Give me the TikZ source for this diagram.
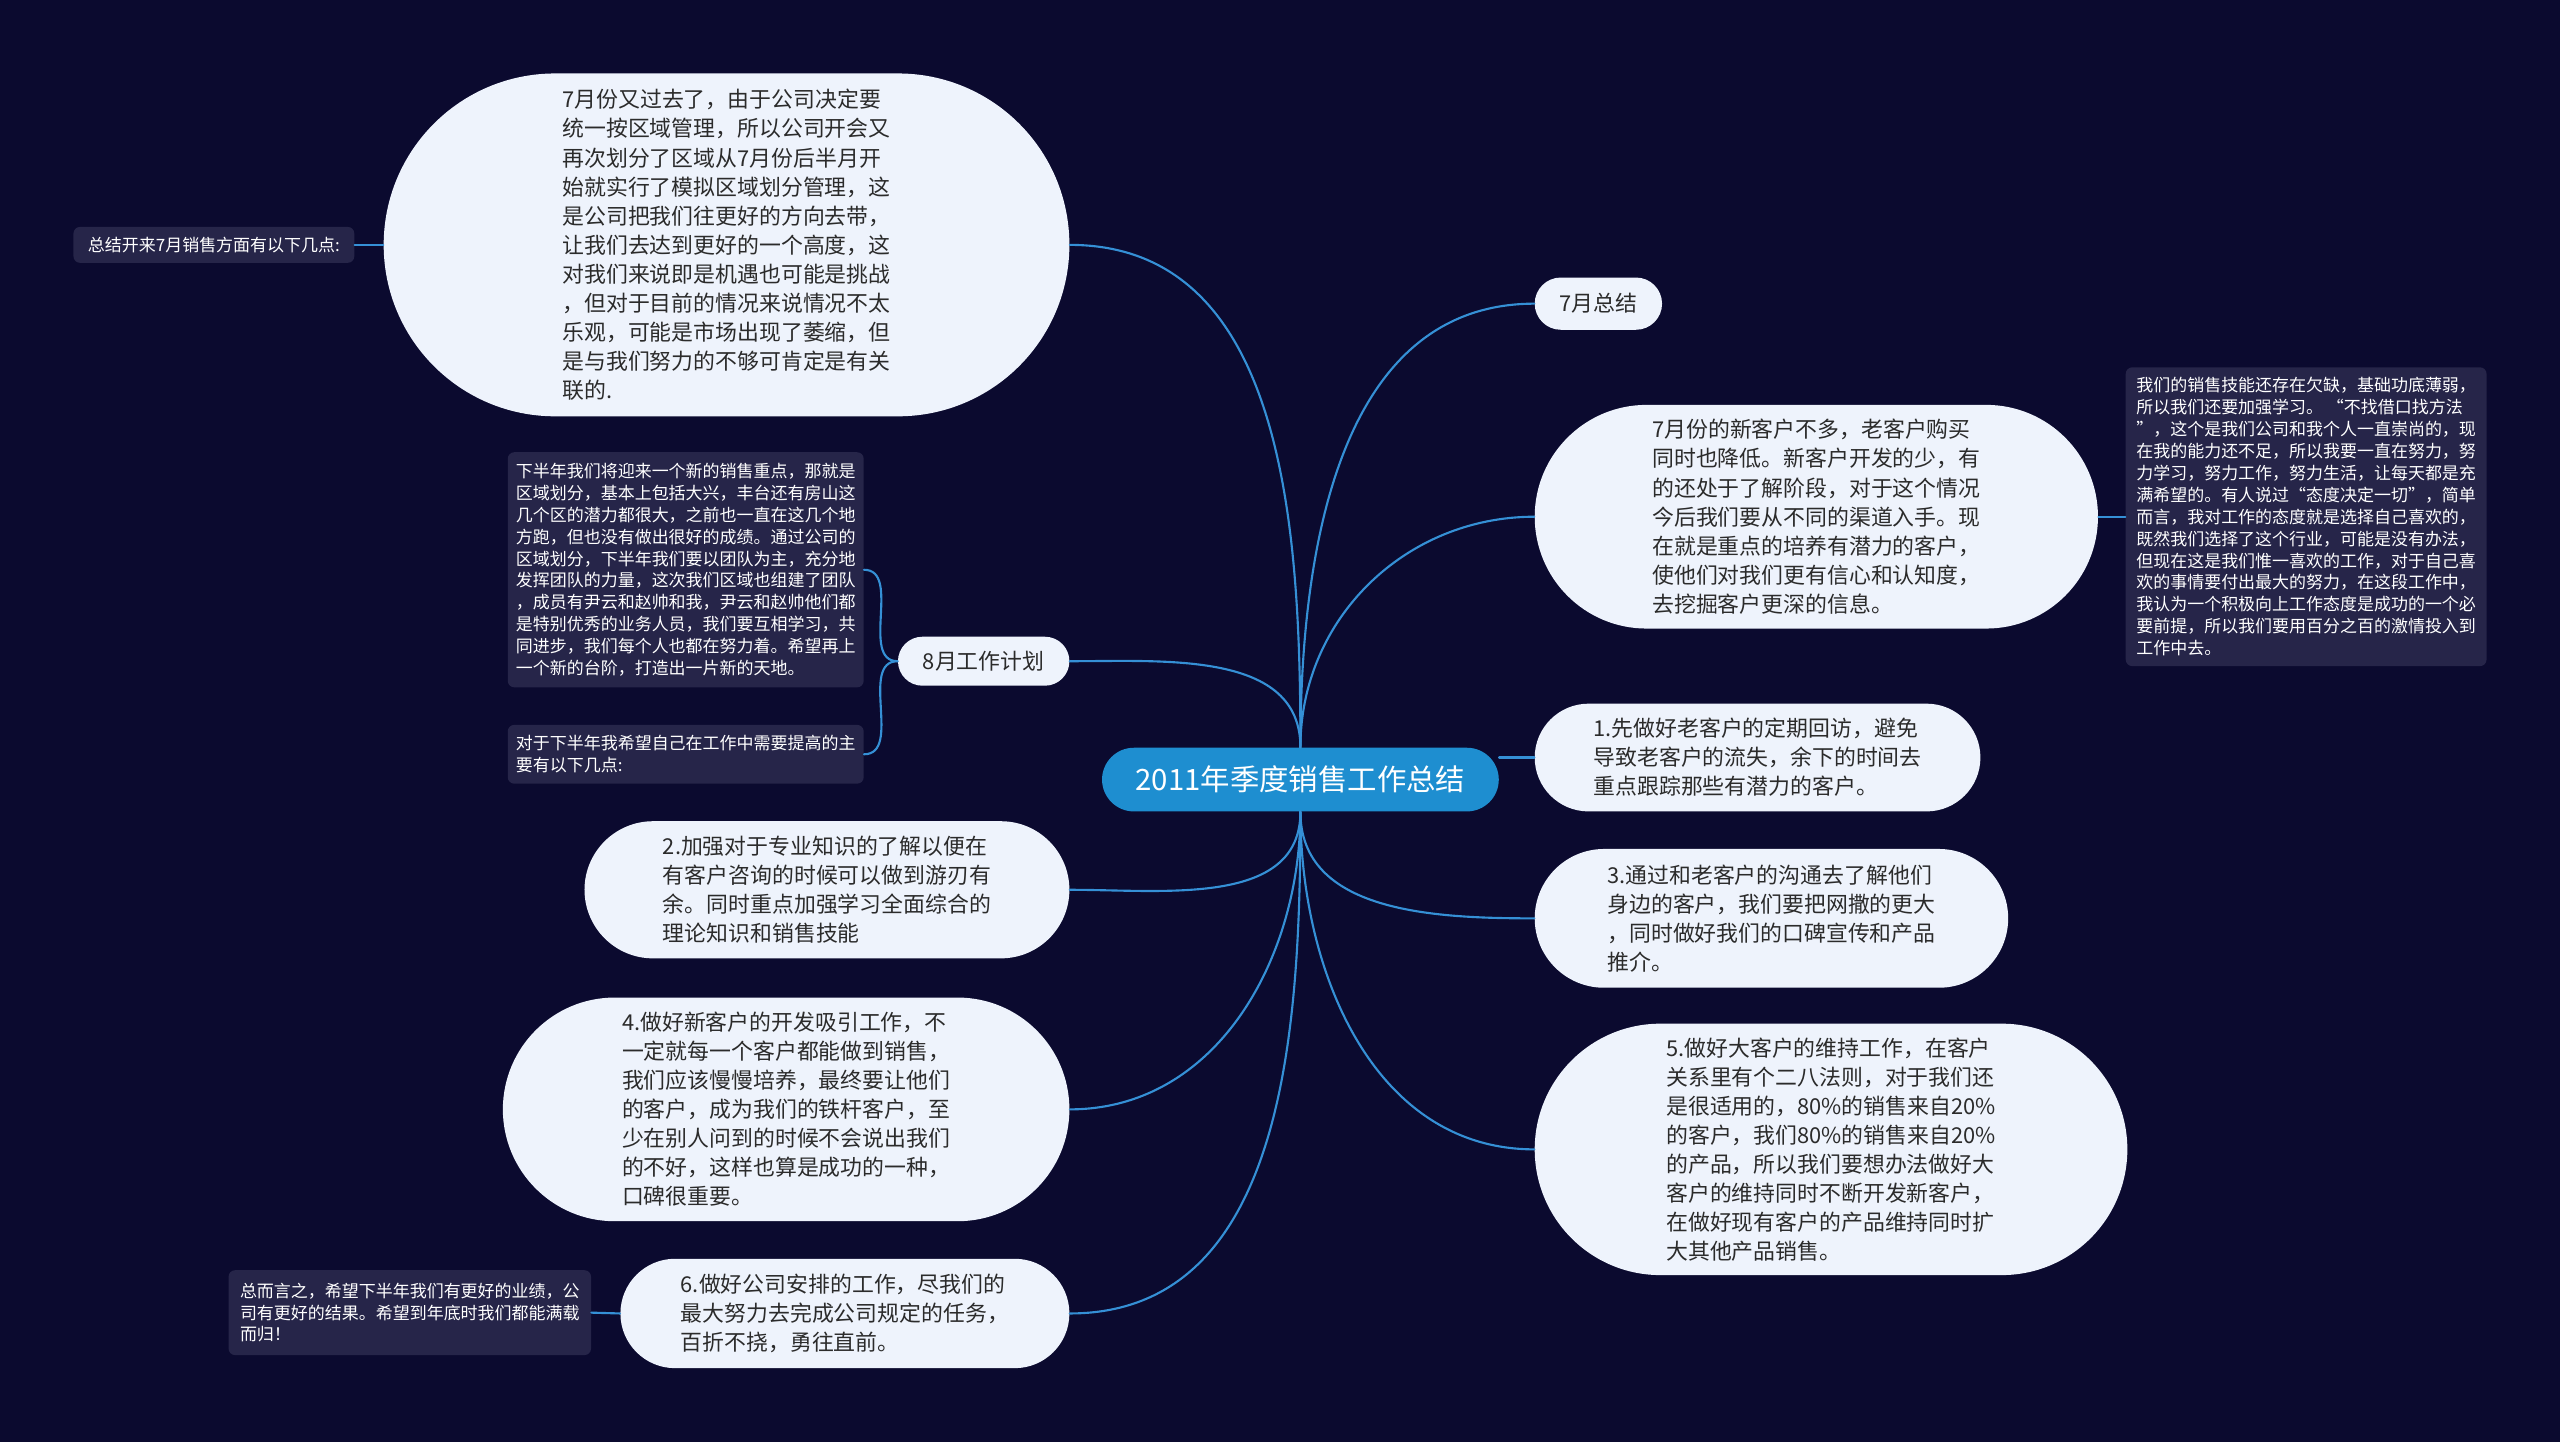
\documentclass[tikz,border=0pt]{standalone}
\usepackage{fontspec}
\setmainfont{Noto Sans CJK SC}
\usetikzlibrary{calc}
\definecolor{MapNight}{HTML}{0B0A2F}
\definecolor{MapBubble}{HTML}{EEF3FC}
\definecolor{MapNote}{HTML}{262549}
\definecolor{MapRoot}{HTML}{1E8ED0}
\definecolor{MapLink}{HTML}{3590D6}
\definecolor{MapInk}{HTML}{2B2B2B}

\newcommand{\bubblefont}{\fontsize{13.4}{17.8}\selectfont}
\newcommand{\notefont}{\fontsize{10.4}{13.4}\selectfont}

\begin{document}
\begin{tikzpicture}[x=1pt,y=1pt,line cap=round,
  link/.style={draw=MapLink,line width=1.3pt},
  pill/.style 2 args={minimum width=#1pt,minimum height=#2pt,rounded corners=#2*0.5pt,inner sep=0pt},
  bubble/.style 2 args={pill={#1}{#2},fill=MapBubble,text=MapInk,align=left,font=\bubblefont},
  note/.style 2 args={minimum width=#1pt,minimum height=#2pt,rounded corners=4pt,inner sep=0pt,
    fill=MapNote,text=white,align=left,font=\notefont}]

% Canvas (1568 x 883, one unit per pixel of the reference)
\fill[MapNight] (0,0) rectangle (1568,883);
\useasboundingbox (0,0) rectangle (1568,883);

% ---- ROOT ----
\node[pill={243}{39},fill=MapRoot,text=white,font=\fontsize{18}{22}\selectfont] (root) at (796.5,405.5)
  {2011年季度销售工作总结};

% ---- LEFT BRANCHES ----
\node[bubble={420}{210}] (july) at (445,733) {7月份又过去了，由于公司决定要\\
统一按区域管理，所以公司开会又\\
再次划分了区域从7月份后半月开\\
始就实行了模拟区域划分管理，这\\
是公司把我们往更好的方向去带，\\
让我们去达到更好的一个高度，这\\
对我们来说即是机遇也可能是挑战\\
，但对于目前的情况来说情况不太\\
乐观，可能是市场出现了萎缩，但\\
是与我们努力的不够可肯定是有关\\
联的.};
\node[note={172}{22}] (julynote) at (131,733) {总结开来7月销售方面有以下几点:};

\node[bubble={105}{30}] (augplan) at (602.5,478) {8月工作计划};
\node[note={218}{144}] (augnote) at (420,534) {下半年我们将迎来一个新的销售重点，那就是\\
区域划分，基本上包括大兴，丰台还有房山这\\
几个区的潜力都很大，之前也一直在这几个地\\
方跑，但也没有做出很好的成绩。通过公司的\\
区域划分，下半年我们要以团队为主，充分地\\
发挥团队的力量，这次我们区域也组建了团队\\
，成员有尹云和赵帅和我，尹云和赵帅他们都\\
是特别优秀的业务人员，我们要互相学习，共\\
同进步，我们每个人也都在努力着。希望再上\\
一个新的台阶，打造出一片新的天地。};
\node[note={218}{36}] (augaim) at (420,421) {对于下半年我希望自己在工作中需要提高的主\\
要有以下几点:};

\node[bubble={297}{84}] (pttwo) at (506.5,338) {2.加强对于专业知识的了解以便在\\
有客户咨询的时候可以做到游刃有\\
余。同时重点加强学习全面综合的\\
理论知识和销售技能};
\node[bubble={347}{137}] (ptfour) at (481.5,203.5) {4.做好新客户的开发吸引工作，不\\
一定就每一个客户都能做到销售，\\
我们应该慢慢培养，最终要让他们\\
的客户，成为我们的铁杆客户，至\\
少在别人问到的时候不会说出我们\\
的不好，这样也算是成功的一种，\\
口碑很重要。};
\node[bubble={275}{67}] (ptsix) at (517.5,78.5) {6.做好公司安排的工作，尽我们的\\
最大努力去完成公司规定的任务，\\
百折不挠，勇往直前。};
\node[note={222}{52}] (endnote) at (251,79) {总而言之，希望下半年我们有更好的业绩，公\\
司有更好的结果。希望到年底时我们都能满载\\
而归！};

% ---- RIGHT BRANCHES ----
\node[bubble={78}{32}] (julysum) at (979,697) {7月总结};
\node[bubble={345}{137}] (clients) at (1112.5,566.5) {7月份的新客户不多，老客户购买\\
同时也降低。新客户开发的少，有\\
的还处于了解阶段，对于这个情况\\
今后我们要从不同的渠道入手。现\\
在就是重点的培养有潜力的客户，\\
使他们对我们更有信心和认知度，\\
去挖掘客户更深的信息。};
\node[note={221}{183}] (skillnote) at (1412.5,566.5) {我们的销售技能还存在欠缺，基础功底薄弱，\\
所以我们还要加强学习。 “不找借口找方法\\
”，这个是我们公司和我个人一直崇尚的，现\\
在我的能力还不足，所以我要一直在努力，努\\
力学习，努力工作，努力生活，让每天都是充\\
满希望的。有人说过“态度决定一切”，简单\\
而言，我对工作的态度就是选择自己喜欢的，\\
既然我们选择了这个行业，可能是没有办法，\\
但现在这是我们惟一喜欢的工作，对于自己喜\\
欢的事情要付出最大的努力，在这段工作中，\\
我认为一个积极向上工作态度是成功的一个必\\
要前提，所以我们要用百分之百的激情投入到\\
工作中去。};

\node[bubble={273}{66}] (ptone) at (1076.5,419) {1.先做好老客户的定期回访，避免\\
导致老客户的流失，余下的时间去\\
重点跟踪那些有潜力的客户。};
\node[bubble={290}{85}] (ptthree) at (1085,320.5) {3.通过和老客户的沟通去了解他们\\
身边的客户，我们要把网撒的更大\\
，同时做好我们的口碑宣传和产品\\
推介。};
\node[bubble={363}{154}] (ptfive) at (1121.5,179) {5.做好大客户的维持工作，在客户\\
关系里有个二八法则，对于我们还\\
是很适用的，80\%的销售来自20\%\\
的客户，我们80\%的销售来自20\%\\
的产品，所以我们要想办法做好大\\
客户的维持同时不断开发新客户，\\
在做好现有客户的产品维持同时扩\\
大其他产品销售。};

% ---- LINKS ----
\draw[link] (root.north) to[out=90,in=0] (july.east);
\draw[link] (root.north) to[out=90,in=0] (augplan.east);
\draw[link] (root.north) to[out=90,in=180] (julysum.west);
\draw[link] (root.north) to[out=90,in=180] (clients.west);
\draw[link] (root.east |- ptone.west) -- (ptone.west);
\draw[link] (root.south) to[out=-90,in=0] (pttwo.east);
\draw[link] (root.south) to[out=-90,in=0] (ptfour.east);
\draw[link] (root.south) to[out=-90,in=0] (ptsix.east);
\draw[link] (root.south) to[out=-90,in=180] (ptthree.west);
\draw[link] (root.south) to[out=-90,in=180] (ptfive.west);

\draw[link] (julynote.east) -- (july.west);
\draw[link] (augplan.west) to[out=180,in=0] (augnote.east);
\draw[link] (augplan.west) to[out=180,in=0] (augaim.east);
\draw[link] (clients.east) -- (skillnote.west);
\draw[link] (endnote.east) -- (ptsix.west);

\end{tikzpicture}
\end{document}
